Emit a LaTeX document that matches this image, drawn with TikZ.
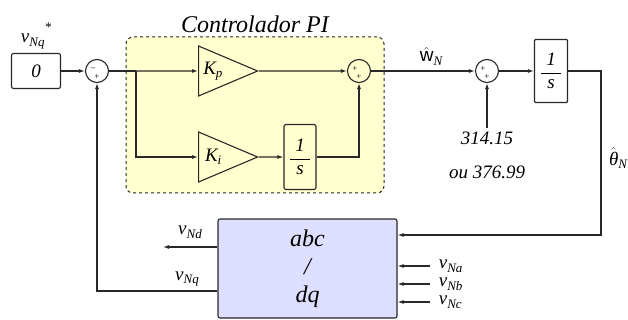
\documentclass[tikz,border=0pt]{standalone}
\usepackage{fontspec}
\setmainfont{Liberation Serif}[ItalicFont={Liberation Serif Italic}, BoldFont={Liberation Serif Bold}]
\newfontfamily\sansw{Liberation Sans}
\newfontfamily\serifit{Liberation Serif Italic}
\usetikzlibrary{arrows.meta,positioning,shapes.geometric}
\definecolor{piyellow}{RGB}{255,255,208}
\definecolor{convblue}{RGB}{222,222,255}
\definecolor{wiregray}{RGB}{40,40,40}
\newcommand{\vsig}[2]{#1\raisebox{-0.4ex}{\fontsize{13}{13}\selectfont #2}}
\newcommand{\fracs}{\ensuremath{\displaystyle\frac{\makebox[20pt]{\serifit 1}}{\mbox{\serifit s}}}}

\begin{document}
\begin{tikzpicture}[x=1pt, y=-1pt, line width=1.1pt, draw=wiregray,
      font=\fontsize{19}{21}\serifit,
      >={Latex[length=6pt,width=4pt]},
      blk/.style={draw, rounded corners=2pt, align=center, inner sep=0pt},
      gain/.style={draw, isosceles triangle, isosceles triangle stretches, minimum width=50pt,
                   minimum height=59pt, inner sep=1pt, anchor=lower side, fill=piyellow},
      sum/.style={draw, circle, minimum size=23pt, inner sep=0pt},
      sgn/.style={font=\fontsize{9}{9}\selectfont\upshape, inner sep=0pt}]
    \useasboundingbox (0,0) rectangle (628,320);
    \node[draw, dashed, line width=1pt, rounded corners=7pt, fill=piyellow,
          minimum width=258pt, minimum height=156pt] (pi) at (255,115) {};
    \node[font=\fontsize{24}{26}\serifit, above=0pt of pi.north] (pititle) {Controlador PI};

    \node[blk, minimum width=49pt, minimum height=35pt] (ref) at (36,71) {0};
    \node[above=0pt of ref] (reflab) {\vsig{v}{Nq}\raisebox{1.3ex}{\fontsize{13}{13}\selectfont *}};
    \node[sum] (s1) at (97,71) {};
    \node[sgn] (s1a) at (93,69) {--};
    \node[sgn] (s1b) at (97,77) {+};
    \coordinate (br) at (136,71);
    \node[gain] (kp) at (198,71) {\vsig{K}{p}};
    \node[gain] (ki) at (198,157) {\vsig{K}{i}};
    \node[blk, fill=piyellow, minimum width=32pt, minimum height=65pt] (pint) at (300,157) {\fracs};
    \node[sum] (s2) at (359,71) {};
    \node[sgn] (s2a) at (355,69) {+};
    \node[sgn] (s2b) at (359,77) {+};
    \node[sum] (s3) at (487,71) {};
    \node[sgn] (s3a) at (483,69) {+};
    \node[sgn] (s3b) at (487,77) {+};
    \node[blk, rounded corners=1pt, minimum width=33pt, minimum height=63pt] (int) at (551,71) {\fracs};
    \node[blk, fill=convblue, minimum width=179pt, minimum height=99pt,
          font=\fontsize{24}{28}\serifit] (conv) at (307.5,268.5) {abc\\/\\dq};

    \draw[->] (ref) -- (s1);
    \draw (s1) -- (br);
    \draw[->] (br) -- (kp);
    \draw[->] (br) |- (ki);
    \draw[->] (ki) -- (pint);
    \draw[->] (kp) -- (s2);
    \draw[->] (pint) -| (s2);
    \draw[->] (s2) -- node[above=2pt, xshift=8pt] (wlab) {$\hat{\mbox{\sansw w}}$\raisebox{-0.4ex}{\fontsize{13}{13}\selectfont N}} (s3);
    \coordinate (wref) at (487,128);
    \draw[->] (wref) -- (s3);
    \node[below=0pt of wref] (wval) {314.15};
    \node (wval2) at (487,172) {ou 376.99};
    \draw[->] (s3) -- (int);
    \coordinate (thc) at (601,235);
    \draw[->] (int) -| (thc) -- (thc -| conv.east);
    \node (thlab) at (618,158) {$\hat{\mbox{\serifit θ}}$\raisebox{-0.4ex}{\fontsize{13}{13}\selectfont N}};

    \coordinate (va) at (430,266);
    \coordinate (vb) at (430,284);
    \coordinate (vc) at (430,302);
    \draw[->] (va) -- (va -| conv.east);
    \draw[->] (vb) -- (vb -| conv.east);
    \draw[->] (vc) -- (vc -| conv.east);
    \node[right=5pt of va] (valab) {\vsig{v}{Na}};
    \node[right=5pt of vb] (vblab) {\vsig{v}{Nb}};
    \node[right=5pt of vc] (vclab) {\vsig{v}{Nc}};

    \coordinate (vd) at (163,247);
    \draw[->] (vd -| conv.west) -- (vd);
    \node (vdlab) at (190,232) {\vsig{v}{Nd}};
    \coordinate (vq) at (97,291);
    \draw[->] (vq -| conv.west) -- (vq) -- (s1);
    \node (vqlab) at (187,279) {\vsig{v}{Nq}};
  \end{tikzpicture}
\end{document}
